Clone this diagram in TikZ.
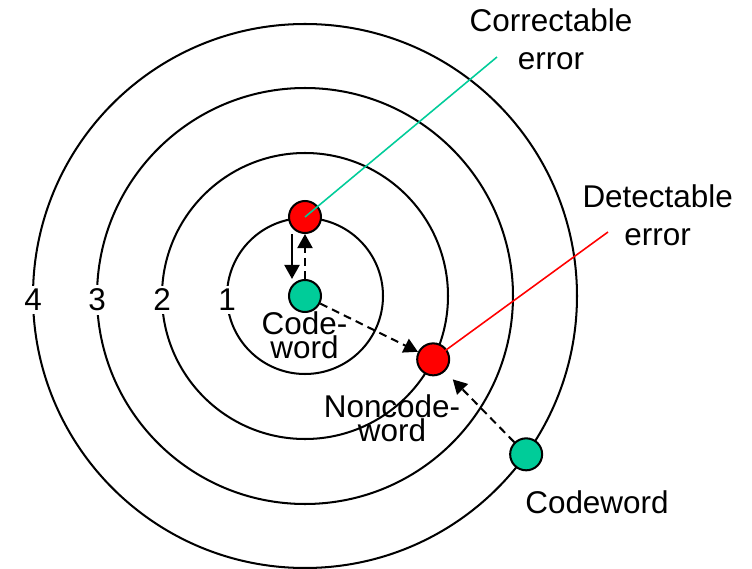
\documentclass[tikz,border=0pt]{standalone}
\usepackage{fontspec}
\setmainfont{Liberation Sans}
\usetikzlibrary{arrows.meta}
\lineskiplimit=-20pt
\definecolor{cw}{RGB}{0,204,153}
\definecolor{ne}{RGB}{255,0,0}
\tikzset{ring/.style={line width=1.15pt},
 cwd/.style={circle,draw,line width=1.15pt,fill=cw,minimum size=6.4mm,inner sep=0pt},
 err/.style={cwd,fill=ne},
 num/.style={fill=white,inner sep=2pt},
 lbl/.style={align=center},
 tight/.style={align=center,font=\fontsize{17.9}{13.4}\selectfont},
 arr/.style={-{Triangle[length=2.8mm,width=3mm]},line width=1.15pt},
 darr/.style={arr,dash pattern=on 4.5pt off 3pt},
 every node/.style={font=\fontsize{17.9}{21.6}\selectfont}}
\begin{document}
\begin{tikzpicture}[x=0.02cm,y=0.02cm]
\useasboundingbox (-305,-273) rectangle (447,296);
% rings of distance 1..4 round the codeword
\foreach \r/\n in {78/1,143/2,208/3,272/4}{
 \draw[ring] (0,0) circle (\r);
 \node[num] (n\n) at (-\r,-4) {\n};}
\node[cwd] (cw1) at (0,0) {};
\node[err] (ce) at (90:79) {};
\node[err] (de) at (-26.3:143) {};
\node[cwd] (cw2) at (-35.6:272) {};
% leader lines
\coordinate (ct) at (192,239); \coordinate (dt) at (303,64);
\draw[cw,line width=0.9pt] (ce.center) -- (ct);
\draw[ne,line width=0.9pt] (de.center) -- (dt);
% arrows
\draw[arr] ([xshift=-2.6mm]ce.south) -- ([xshift=-2.6mm]cw1.north);
\draw[darr] (cw1) -- (ce);
\draw[darr] (cw1) -- (de);
\draw[darr,shorten >=2.2mm] (cw2) -- (de);
% labels
\node[lbl] (cl) at (246,256.5) {Correctable\\error};
\node[lbl] (dl) at (352.7,80.5) {Detectable\\error};
\node[tight] (c1l) at (-0.5,-39) {Code-\\word};
\node[tight] (nl) at (87,-122.5) {Noncode-\\word};
\node[anchor=base] (c2l) at (292,-217) {Codeword};
\end{tikzpicture}
\end{document}
